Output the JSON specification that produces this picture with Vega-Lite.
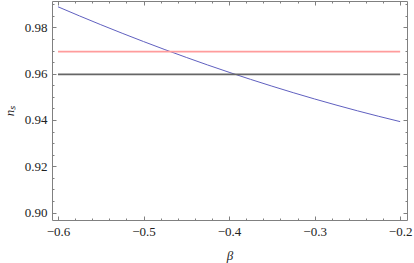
{
  "$schema": "https://vega.github.io/schema/vega-lite/v6.json",
  "autosize": {"type": "none"},
  "padding": {"left": 52, "top": 1, "right": 7, "bottom": 43},
  "width": 355,
  "height": 219,
  "config": {
    "view": {"stroke": "#808080", "strokeWidth": 1},
    "axis": {"grid": false, "domain": false, "labelFont": "Liberation Serif", "titleFont": "Liberation Serif", "labelColor": "#222", "titleColor": "#222", "tickColor": "#808080"},
    "font": "Liberation Serif"
  },
  "datasets": {
    "curve": [
      {"beta": -0.6, "ns": 0.9889},
      {"beta": -0.575, "ns": 0.98498},
      {"beta": -0.55, "ns": 0.98117},
      {"beta": -0.525, "ns": 0.97747},
      {"beta": -0.5, "ns": 0.97388},
      {"beta": -0.475, "ns": 0.9704},
      {"beta": -0.45, "ns": 0.96703},
      {"beta": -0.425, "ns": 0.96376},
      {"beta": -0.4, "ns": 0.96061},
      {"beta": -0.375, "ns": 0.95756},
      {"beta": -0.35, "ns": 0.95463},
      {"beta": -0.325, "ns": 0.9518},
      {"beta": -0.3, "ns": 0.94908},
      {"beta": -0.275, "ns": 0.94647},
      {"beta": -0.25, "ns": 0.94397},
      {"beta": -0.225, "ns": 0.94158},
      {"beta": -0.2, "ns": 0.9393}
    ],
    "hlines": [
      {"b1": -0.6, "b2": -0.2, "ns": 0.9695, "series": "red"},
      {"b1": -0.6, "b2": -0.2, "ns": 0.9597, "series": "black"}
    ]
  },
  "resolve": {"axis": {"x": "independent", "y": "independent"}},
  "layer": [
    {
      "data": {"name": "curve"},
      "mark": {"type": "line", "color": "#6060c0", "strokeWidth": 1, "clip": true},
      "encoding": {
        "x": {"field": "beta", "type": "quantitative",
          "scale": {"domain": [-0.607, -0.192], "nice": false, "zero": false},
          "axis": {"orient": "bottom", "values": [-0.6, -0.5, -0.4, -0.3, -0.2], "format": ".1f", "ticks": false, "labelPadding": 5, "labelFontSize": 13, "title": "β", "titleFontSize": 13, "titleFontStyle": "italic", "titleFontWeight": "normal", "titlePadding": 11}},
        "y": {"field": "ns", "type": "quantitative",
          "scale": {"domain": [0.8968, 0.9914], "nice": false, "zero": false},
          "axis": {"orient": "left", "values": [0.9, 0.92, 0.94, 0.96, 0.98], "format": ".2f", "ticks": false, "labelPadding": 5, "labelFontSize": 13, "title": "nₛ", "titleFontSize": 13, "titleFontStyle": "italic", "titleFontWeight": "normal", "titlePadding": 8}}
      }
    },
    {
      "data": {"name": "hlines"},
      "transform": [{"filter": "datum.series == 'red'"}],
      "mark": {"type": "rule", "color": "#ff9c9c", "strokeWidth": 1.8},
      "encoding": {
        "x": {"field": "b1", "type": "quantitative",
          "axis": {"orient": "bottom", "values": [-0.6, -0.5, -0.4, -0.3, -0.2], "labels": false, "tickSize": -4, "title": null}},
        "x2": {"field": "b2"},
        "y": {"field": "ns", "type": "quantitative",
          "axis": {"orient": "left", "values": [0.9, 0.92, 0.94, 0.96, 0.98], "labels": false, "tickSize": -4, "title": null}}
      }
    },
    {
      "data": {"name": "hlines"},
      "transform": [{"filter": "datum.series == 'black'"}],
      "mark": {"type": "rule", "color": "#666666", "strokeWidth": 1.6},
      "encoding": {
        "x": {"field": "b1", "type": "quantitative",
          "axis": {"orient": "bottom", "values": [-0.6, -0.58, -0.56, -0.54, -0.52, -0.5, -0.48, -0.46, -0.44, -0.42, -0.4, -0.38, -0.36, -0.34, -0.32, -0.3, -0.28, -0.26, -0.24, -0.22, -0.2], "labels": false, "tickSize": -2, "title": null}},
        "x2": {"field": "b2"},
        "y": {"field": "ns", "type": "quantitative",
          "axis": {"orient": "left", "values": [0.9, 0.905, 0.91, 0.915, 0.92, 0.925, 0.93, 0.935, 0.94, 0.945, 0.95, 0.955, 0.96, 0.965, 0.97, 0.975, 0.98, 0.985, 0.99], "labels": false, "tickSize": -2, "title": null}}
      }
    },
    {
      "data": {"name": "curve"},
      "mark": {"type": "line", "strokeOpacity": 0},
      "encoding": {
        "x": {"field": "beta", "type": "quantitative",
          "axis": {"orient": "top", "values": [-0.6, -0.5, -0.4, -0.3, -0.2], "labels": false, "tickSize": -4, "title": null}},
        "y": {"field": "ns", "type": "quantitative",
          "axis": {"orient": "right", "values": [0.9, 0.92, 0.94, 0.96, 0.98], "labels": false, "tickSize": -4, "title": null}}
      }
    },
    {
      "data": {"name": "curve"},
      "mark": {"type": "line", "strokeOpacity": 0},
      "encoding": {
        "x": {"field": "beta", "type": "quantitative",
          "axis": {"orient": "top", "values": [-0.6, -0.58, -0.56, -0.54, -0.52, -0.5, -0.48, -0.46, -0.44, -0.42, -0.4, -0.38, -0.36, -0.34, -0.32, -0.3, -0.28, -0.26, -0.24, -0.22, -0.2], "labels": false, "tickSize": -2, "title": null}},
        "y": {"field": "ns", "type": "quantitative",
          "axis": {"orient": "right", "values": [0.9, 0.905, 0.91, 0.915, 0.92, 0.925, 0.93, 0.935, 0.94, 0.945, 0.95, 0.955, 0.96, 0.965, 0.97, 0.975, 0.98, 0.985, 0.99], "labels": false, "tickSize": -2, "title": null}}
      }
    }
  ]
}
